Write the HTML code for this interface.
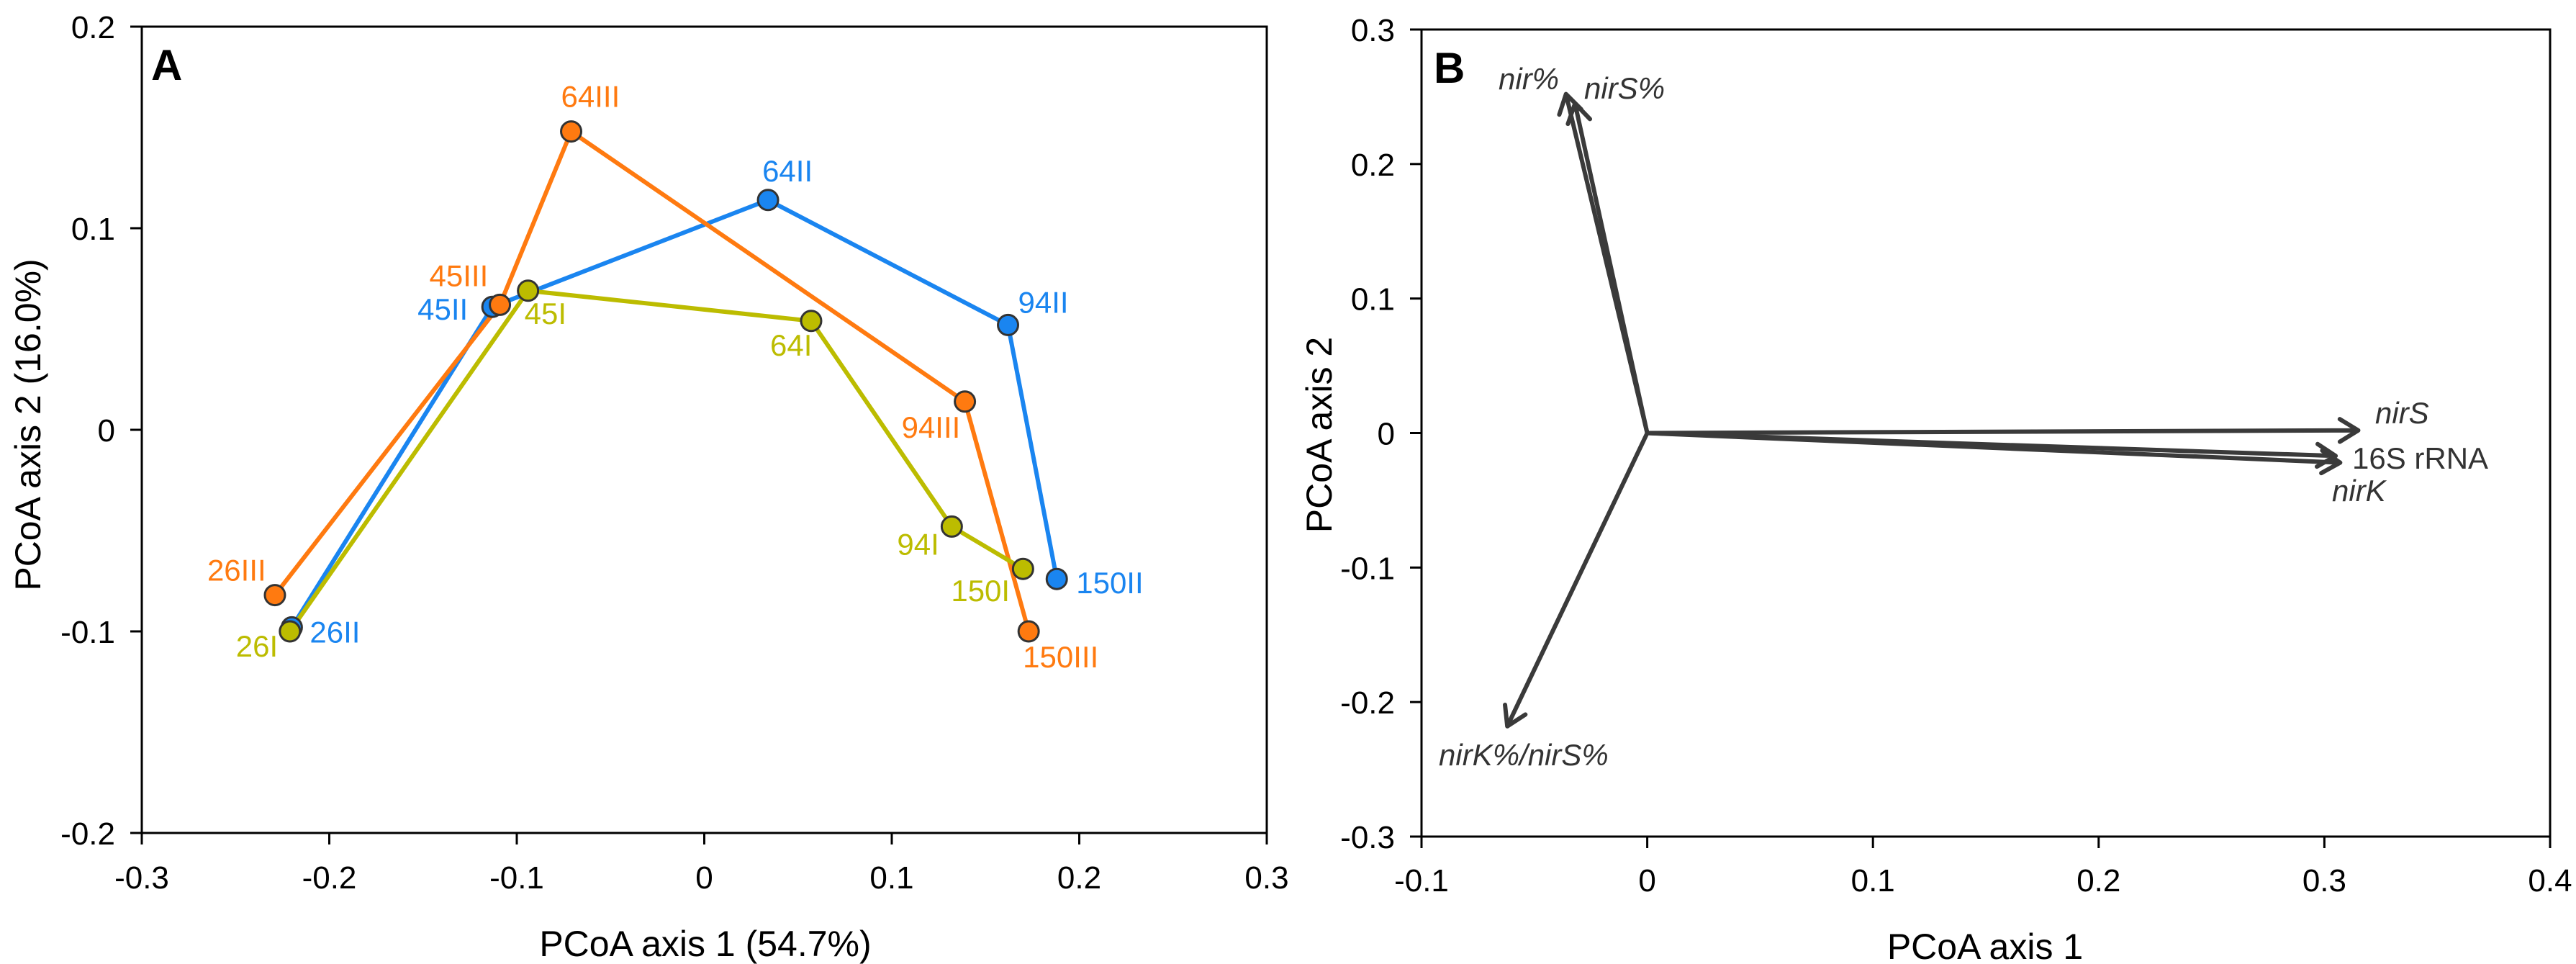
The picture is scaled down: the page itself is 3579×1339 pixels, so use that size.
<!DOCTYPE html>
<html><head><meta charset="utf-8"><style>
html,body{margin:0;padding:0;background:#fff}
svg{display:block}
text{font-family:"Liberation Sans",Arial,sans-serif}
</style></head><body>
<svg id="chart" width="3579" height="1339" viewBox="0 0 3579 1339" xmlns="http://www.w3.org/2000/svg">
<g id="panelA"></g>
<g id="panelB"></g>
</svg>
<script>
// Panel A data
const aSeries = ["I", "II", "III"];
const aDepths = ["26", "45", "64", "94", "150"];
const aX_I = [-0.221, -0.094, 0.057, 0.132, 0.170];
const aY_I = [-0.100, 0.069, 0.054, -0.048, -0.069];
const aX_II = [-0.220, -0.113, 0.034, 0.162, 0.188];
const aY_II = [-0.098, 0.061, 0.114, 0.052, -0.074];
const aX_III = [-0.229, -0.109, -0.071, 0.139, 0.173];
const aY_III = [-0.082, 0.062, 0.148, 0.014, -0.100];
const aXTicks = [-0.3, -0.2, -0.1, 0, 0.1, 0.2, 0.3];
const aYTicks = [-0.2, -0.1, 0, 0.1, 0.2];
// Panel B data
const bNames = ["nir%", "nirS%", "nirS", "16S rRNA", "nirK", "nirK%/nirS%"];
const bX = [-0.036, -0.032, 0.315, 0.305, 0.307, -0.062];
const bY = [0.252, 0.245, 0.002, -0.017, -0.022, -0.218];
const bXTicks = [-0.1, 0, 0.1, 0.2, 0.3, 0.4];
const bYTicks = [-0.3, -0.2, -0.1, 0, 0.1, 0.2, 0.3];

const NS = "http://www.w3.org/2000/svg";
function mk(tag, attrs, parent, txt) {
  const e = document.createElementNS(NS, tag);
  for (const k in attrs) e.setAttribute(k, attrs[k]);
  if (txt !== undefined) e.textContent = txt;
  parent.appendChild(e);
  return e;
}
function fmt(v){ return v === 0 ? "0" : String(Math.round(v*10)/10); }

// ---- Panel A ----
const A = document.getElementById("panelA");
const aL = 197, aR = 1760, aT = 37, aB = 1157;
const ax = v => aL + (v - aXTicks[0]) / (aXTicks[aXTicks.length-1] - aXTicks[0]) * (aR - aL);
const ay = v => aB - (v - aYTicks[0]) / (aYTicks[aYTicks.length-1] - aYTicks[0]) * (aB - aT);
let e = mk("rect", {x:aL, y:aT, width:aR-aL, height:aB-aT, fill:"none", stroke:"#000", "stroke-width":3}, A);


aXTicks.forEach(t => {
  let l = mk("line", {x1:ax(t), x2:ax(t), y1:aB, y2:aB+16, stroke:"#000", "stroke-width":3}, A);
  
  
  let tx = mk("text", {x:ax(t), y:1234, "font-size":44, "text-anchor":"middle"}, A, fmt(t));
  
  
});
aYTicks.forEach(t => {
  let l = mk("line", {x1:aL-16, x2:aL, y1:ay(t), y2:ay(t), stroke:"#000", "stroke-width":3}, A);
  
  
  let tx = mk("text", {x:160, y:ay(t)+16, "font-size":44, "text-anchor":"end"}, A, fmt(t));
  
  
});
e = mk("text", {x:980, y:1328, "font-size":50, "text-anchor":"middle"}, A, "PCoA axis 1 (54.7%)");


e = mk("text", {x:0, y:0, "font-size":50, "text-anchor":"middle", transform:"translate(56,590) rotate(-90)"}, A, "PCoA axis 2 (16.0%)");


e = mk("text", {x:210, y:111, "font-size":60, "font-weight":"bold"}, A, "A");



const colors = {I:"#bcbc00", II:"#1a85f0", III:"#ff7a10"};
const xs = {I:aX_I, II:aX_II, III:aX_III};
const ys = {I:aY_I, II:aY_II, III:aY_III};
// label offsets (px) per series/depth
const offs = {
  I:  [[-75,35],[-5,46],[-57,48],[-76,39],[-100,45]],
  II: [[25,21],[-104,18],[-8,-26],[14,-17],[27,20]],
  III:[[-94,-20],[-98,-26],[-14,-34],[-88,50],[-8,50]]
};
["II","III","I"].forEach(s => {
  const pts = xs[s].map((v,i) => ax(v)+","+ay(ys[s][i])).join(" ");
  let pl = mk("polyline", {points:pts, fill:"none", stroke:colors[s], "stroke-width":6, "stroke-linejoin":"round"}, A);
  
  
});
["II","III","I"].forEach(s => {
  xs[s].forEach((v,i) => {
    const cx = ax(v), cy = ay(ys[s][i]);
    let c = mk("circle", {cx:cx, cy:cy, r:14, fill:colors[s], stroke:"#333", "stroke-width":3}, A);
    
    
    let t = mk("text", {x:cx+offs[s][i][0], y:cy+offs[s][i][1], "font-size":42, fill:colors[s]}, A, aDepths[i] + s);
    
    
  });
});

// ---- Panel B ----
const B = document.getElementById("panelB");
const bL = 1975, bR = 3543, bT = 41, bBt = 1162;
const bx = v => bL + (v - bXTicks[0]) / (bXTicks[bXTicks.length-1] - bXTicks[0]) * (bR - bL);
const by = v => bBt - (v - bYTicks[0]) / (bYTicks[bYTicks.length-1] - bYTicks[0]) * (bBt - bT);
e = mk("rect", {x:bL, y:bT, width:bR-bL, height:bBt-bT, fill:"none", stroke:"#000", "stroke-width":3}, B);


bXTicks.forEach(t => {
  let l = mk("line", {x1:bx(t), x2:bx(t), y1:bBt, y2:bBt+16, stroke:"#000", "stroke-width":3}, B);
  
  
  let tx = mk("text", {x:bx(t), y:1238, "font-size":44, "text-anchor":"middle"}, B, fmt(t));
  
  
});
bYTicks.forEach(t => {
  let l = mk("line", {x1:bL-16, x2:bL, y1:by(t), y2:by(t), stroke:"#000", "stroke-width":3}, B);
  
  
  let tx = mk("text", {x:1938, y:by(t)+16, "font-size":44, "text-anchor":"end"}, B, fmt(t));
  
  
});
e = mk("text", {x:2758, y:1332, "font-size":50, "text-anchor":"middle"}, B, "PCoA axis 1");


e = mk("text", {x:0, y:0, "font-size":50, "text-anchor":"middle", transform:"translate(1850,604) rotate(-90)"}, B, "PCoA axis 2");


e = mk("text", {x:1992, y:115, "font-size":60, "font-weight":"bold"}, B, "B");



const labPos = [[2082,124,"italic"],[2201,137,"italic"],[3300,588,"italic"],[3268,651,"normal"],[3240,696,"italic"],[1999,1063,"italic"]];
const ox = bx(0), oy = by(0);
bNames.forEach((n,i) => {
  const tx = bx(bX[i]), ty = by(bY[i]);
  const ang = Math.atan2(ty-oy, tx-ox), h = 30, sp = 0.55;
  const d = `M${ox},${oy} L${tx},${ty} M${tx-h*Math.cos(ang-sp)},${ty-h*Math.sin(ang-sp)} L${tx},${ty} L${tx-h*Math.cos(ang+sp)},${ty-h*Math.sin(ang+sp)}`;
  let p = mk("path", {d:d, fill:"none", stroke:"#3a3a3a", "stroke-width":6, "stroke-linecap":"round", "stroke-linejoin":"round"}, B);
  
  
  let t = mk("text", {x:labPos[i][0], y:labPos[i][1], "font-size":42, "font-style":labPos[i][2], fill:"#333"}, B, n);
  
  
});
</script>
</body></html>
